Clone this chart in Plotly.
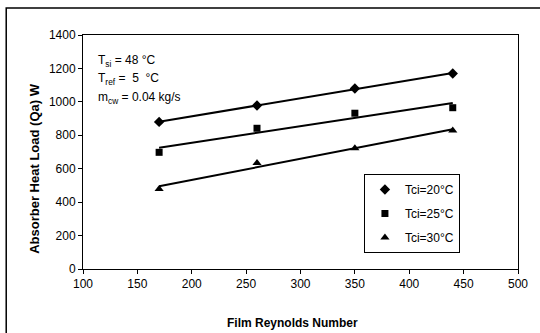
import numpy as np
import plotly.graph_objects as go

reynolds = [170, 260, 350, 440]
q_tci20 = [880, 978, 1080, 1170]
q_tci25 = [698, 842, 932, 965]
q_tci30 = [479, 634, 722, 828]

series = [
    ("Tci=20°C", q_tci20, "diamond", 8),
    ("Tci=25°C", q_tci25, "square", 7),
    ("Tci=30°C", q_tci30, "triangle-up", 8),
]

x_ticks = [100, 150, 200, 250, 300, 350, 400, 450, 500]
y_ticks = [0, 200, 400, 600, 800, 1000, 1200, 1400]

FONT = "Liberation Sans, Arial, sans-serif"

fig = go.Figure()
xr = np.array(reynolds, dtype=float)
for i, (name, ys, sym, sz) in enumerate(series):
    coef = np.polyfit(xr, np.array(ys, dtype=float), 1)
    xt = np.array([xr.min(), xr.max()])
    fig.add_trace(go.Scatter(x=xt, y=np.polyval(coef, xt), mode="lines",
                             line=dict(color="black", width=2), showlegend=False,
                             hoverinfo="skip"))
    fig.add_trace(go.Scatter(x=reynolds, y=ys, mode="markers", name=name,
                             legendgroup=f"g{i}",
                             marker=dict(symbol=sym, size=sz, color="black")))

axis_common = dict(showgrid=False, zeroline=False, showline=True, linecolor="black",
                   linewidth=1, mirror=True, ticks="outside", ticklen=4,
                   tickcolor="black", tickfont=dict(family=FONT, size=12, color="black"))

fig.update_xaxes(range=[100, 500], tickvals=x_ticks, **axis_common)
fig.update_yaxes(range=[0, 1400], tickvals=y_ticks, **axis_common)

fig.update_layout(
    width=540, height=333,
    margin=dict(l=83, r=15, t=35, b=64),
    plot_bgcolor="white", paper_bgcolor="white",
    font=dict(family=FONT, size=12, color="black"),
    legend=dict(x=(466 - 83) / 442, xanchor="right", y=(269 - 174) / 234, yanchor="top",
                bordercolor="black", borderwidth=1, bgcolor="white",
                font=dict(family=FONT, size=12), itemwidth=30,
                tracegroupgap=5),
    shapes=[dict(type="rect", xref="paper", yref="paper",
                 x0=-0.1765, x1=1.3, y0=-0.5, y1=1.1154,
                 line=dict(color="black", width=1.5), fillcolor="rgba(0,0,0,0)")],
    annotations=[
        dict(text="T<sub>si</sub> = 48 °C", x=0.031, y=0.89, xref="paper", yref="paper",
             xanchor="left", yanchor="middle", showarrow=False, font=dict(size=12)),
        dict(text="T<sub>ref</sub> =  5  °C", x=0.031, y=0.81, xref="paper", yref="paper",
             xanchor="left", yanchor="middle", showarrow=False, font=dict(size=12)),
        dict(text="m<sub>cw</sub> = 0.04 kg/s", x=0.031, y=0.73, xref="paper", yref="paper",
             xanchor="left", yanchor="middle", showarrow=False, font=dict(size=12)),
        dict(text="<b>Absorber Heat Load (Qa) W</b>", textangle=-90,
             x=(33 - 83) / 442, y=(269 - 169) / 234, xref="paper", yref="paper",
             xanchor="center", yanchor="middle", showarrow=False,
             font=dict(size=13)),
        dict(text="<b>Film Reynolds Number</b>",
             x=(296 - 83) / 442, y=(269 - 323) / 234, xref="paper", yref="paper",
             xanchor="center", yanchor="middle", showarrow=False,
             font=dict(size=12)),
    ],
)

fig.write_html("out.html")
